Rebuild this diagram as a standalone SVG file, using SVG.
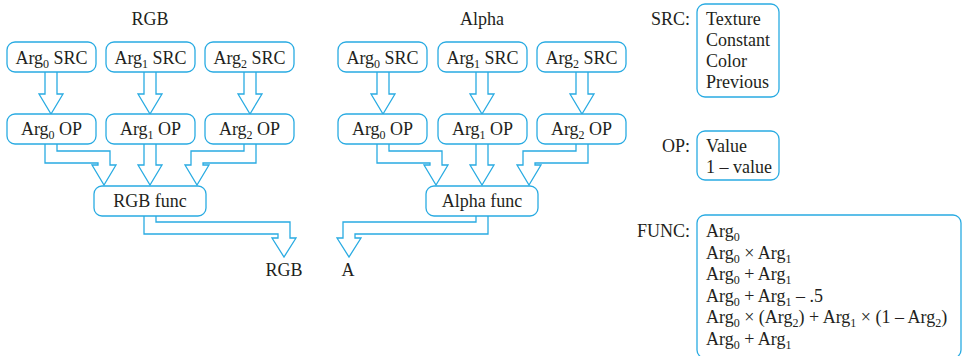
<svg xmlns="http://www.w3.org/2000/svg" width="962" height="356" viewBox="0 0 962 356">
<style>
text{font-family:"Liberation Serif","Times New Roman",serif;font-size:18px;fill:#231f20}
.c{text-anchor:middle}
.e{text-anchor:end}
.b{fill:#fff;stroke:#29abe2;stroke-width:1.3}
.a{fill:none;stroke:#29abe2;stroke-width:1.3;stroke-linejoin:miter}
.s{font-size:12px}
</style>
<rect width="962" height="356" fill="#fff"/>
<text class="c" x="150" y="25">RGB</text>
<text class="c" x="482" y="25">Alpha</text>

<g id="connectors">
<polyline class="a" points="45,72 45,94 39,94 51,114 63,94 57,94 57,72"/>
<polyline class="a" points="144,72 144,94 138,94 150,114 162,94 156,94 156,72"/>
<polyline class="a" points="244,72 244,94 238,94 250,114 262,94 256,94 256,72"/>
<polyline class="a" points="45,144 45,163 98,163 98,165 92,165 104,185 116,165 110,165 110,151 57,151 57,144"/>
<polyline class="a" points="144,144 144,165 138,165 150,185 162,165 156,165 156,144"/>
<polyline class="a" points="256,144 256,163 203,163 203,165 209,165 197,185 185,165 191,165 191,151 244,151 244,144"/>
<polyline class="a" points="144,216 144,234 278,234 278,238 272,238 284,257 296,238 290,238 290,222 156,222 156,216"/>
<polyline class="a" points="377,72 377,94 371,94 383,114 395,94 389,94 389,72"/>
<polyline class="a" points="476,72 476,94 470,94 482,114 494,94 488,94 488,72"/>
<polyline class="a" points="576,72 576,94 570,94 582,114 594,94 588,94 588,72"/>
<polyline class="a" points="377,144 377,163 430,163 430,165 424,165 436,185 448,165 442,165 442,151 389,151 389,144"/>
<polyline class="a" points="476,144 476,165 470,165 482,185 494,165 488,165 488,144"/>
<polyline class="a" points="588,144 588,163 535,163 535,165 541,165 529,185 517,165 523,165 523,151 576,151 576,144"/>
<polyline class="a" points="488,216 488,234 355,234 355,238 361,238 349,257 337,238 343,238 343,222 476,222 476,216"/>
</g>

<g id="rgb-arg0-src"><rect class="b" x="7" y="42" width="89" height="30" rx="8"/><text class="c" x="51.5" y="64">Arg<tspan class="s" dy="4">0</tspan><tspan dy="-4"> SRC</tspan></text></g>
<g id="rgb-arg1-src"><rect class="b" x="106" y="42" width="89" height="30" rx="8"/><text class="c" x="150.5" y="64">Arg<tspan class="s" dy="4">1</tspan><tspan dy="-4"> SRC</tspan></text></g>
<g id="rgb-arg2-src"><rect class="b" x="205" y="42" width="89" height="30" rx="8"/><text class="c" x="249.5" y="64">Arg<tspan class="s" dy="4">2</tspan><tspan dy="-4"> SRC</tspan></text></g>
<g id="rgb-arg0-op"><rect class="b" x="7" y="114" width="89" height="30" rx="8"/><text class="c" x="51.5" y="135">Arg<tspan class="s" dy="4">0</tspan><tspan dy="-4"> OP</tspan></text></g>
<g id="rgb-arg1-op"><rect class="b" x="106" y="114" width="89" height="30" rx="8"/><text class="c" x="150.5" y="135">Arg<tspan class="s" dy="4">1</tspan><tspan dy="-4"> OP</tspan></text></g>
<g id="rgb-arg2-op"><rect class="b" x="205" y="114" width="89" height="30" rx="8"/><text class="c" x="249.5" y="135">Arg<tspan class="s" dy="4">2</tspan><tspan dy="-4"> OP</tspan></text></g>
<g id="rgb-func"><rect class="b" x="94" y="186" width="112" height="30" rx="8"/><text class="c" x="150" y="207">RGB func</text></g>
<g id="rgb-out"><text class="c" x="284" y="276">RGB</text></g>

<g id="alpha-arg0-src"><rect class="b" x="338" y="42" width="89" height="30" rx="8"/><text class="c" x="382.5" y="64">Arg<tspan class="s" dy="4">0</tspan><tspan dy="-4"> SRC</tspan></text></g>
<g id="alpha-arg1-src"><rect class="b" x="438" y="42" width="89" height="30" rx="8"/><text class="c" x="482.5" y="64">Arg<tspan class="s" dy="4">1</tspan><tspan dy="-4"> SRC</tspan></text></g>
<g id="alpha-arg2-src"><rect class="b" x="537" y="42" width="89" height="30" rx="8"/><text class="c" x="581.5" y="64">Arg<tspan class="s" dy="4">2</tspan><tspan dy="-4"> SRC</tspan></text></g>
<g id="alpha-arg0-op"><rect class="b" x="338" y="114" width="89" height="30" rx="8"/><text class="c" x="382.5" y="135">Arg<tspan class="s" dy="4">0</tspan><tspan dy="-4"> OP</tspan></text></g>
<g id="alpha-arg1-op"><rect class="b" x="438" y="114" width="89" height="30" rx="8"/><text class="c" x="482.5" y="135">Arg<tspan class="s" dy="4">1</tspan><tspan dy="-4"> OP</tspan></text></g>
<g id="alpha-arg2-op"><rect class="b" x="537" y="114" width="89" height="30" rx="8"/><text class="c" x="581.5" y="135">Arg<tspan class="s" dy="4">2</tspan><tspan dy="-4"> OP</tspan></text></g>
<g id="alpha-func"><rect class="b" x="426" y="186" width="112" height="30" rx="8"/><text class="c" x="482" y="207">Alpha func</text></g>
<g id="alpha-out"><text class="c" x="348" y="276">A</text></g>

<g id="legend-src">
<text class="e" x="690" y="25">SRC:</text>
<rect class="b" x="697" y="4" width="82" height="93" rx="8"/>
<text x="706" y="25">Texture</text>
<text x="706" y="46">Constant</text>
<text x="706" y="67">Color</text>
<text x="706" y="88">Previous</text>
</g>
<g id="legend-op">
<text class="e" x="690" y="152">OP:</text>
<rect class="b" x="697" y="131" width="82" height="49" rx="8"/>
<text x="706" y="152">Value</text>
<text x="706" y="173">1 – value</text>
</g>
<g id="legend-func">
<text class="e" x="690" y="237">FUNC:</text>
<rect class="b" x="697" y="215" width="264" height="143" rx="8"/>
<text x="706" y="237">Arg<tspan class="s" dy="4">0</tspan></text>
<text x="706" y="258.5">Arg<tspan class="s" dy="4">0</tspan><tspan dy="-4"> × Arg</tspan><tspan class="s" dy="4">1</tspan></text>
<text x="706" y="280">Arg<tspan class="s" dy="4">0</tspan><tspan dy="-4"> + Arg</tspan><tspan class="s" dy="4">1</tspan></text>
<text x="706" y="301.5">Arg<tspan class="s" dy="4">0</tspan><tspan dy="-4"> + Arg</tspan><tspan class="s" dy="4">1</tspan><tspan dy="-4"> – .5</tspan></text>
<text x="706" y="323">Arg<tspan class="s" dy="4">0</tspan><tspan dy="-4"> × (Arg</tspan><tspan class="s" dy="4">2</tspan><tspan dy="-4">) + Arg</tspan><tspan class="s" dy="4">1</tspan><tspan dy="-4"> × (1 – Arg</tspan><tspan class="s" dy="4">2</tspan><tspan dy="-4">)</tspan></text>
<text x="706" y="344.5">Arg<tspan class="s" dy="4">0</tspan><tspan dy="-4"> + Arg</tspan><tspan class="s" dy="4">1</tspan></text>
</g>
</svg>
